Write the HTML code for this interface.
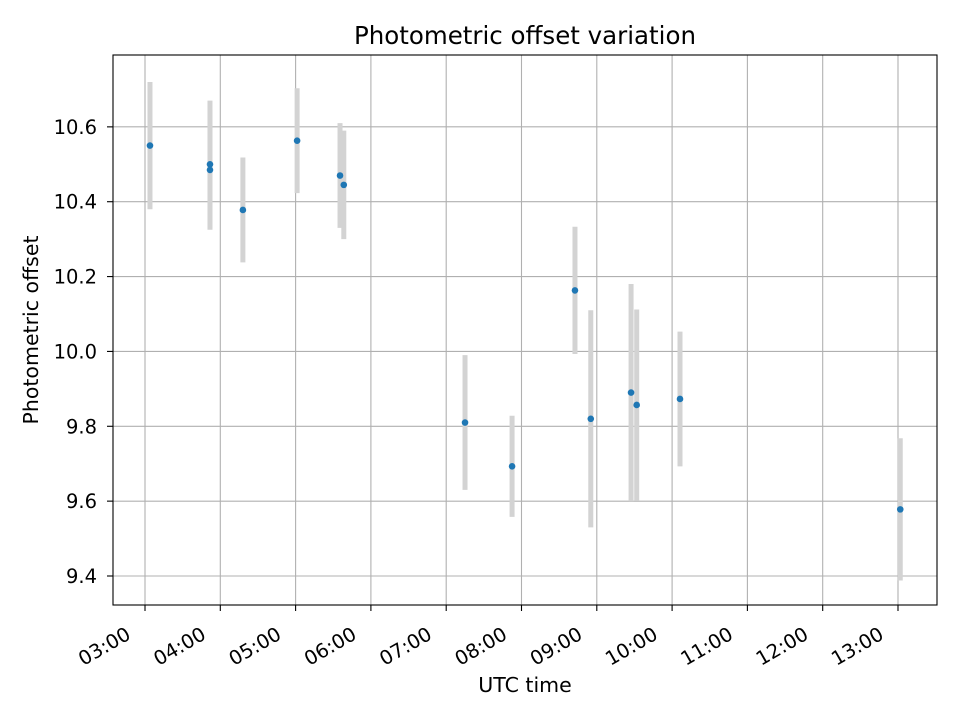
<!DOCTYPE html>
<html><head><meta charset="utf-8"><style>
html,body{margin:0;padding:0;background:#fff;}
svg text{font-family:"DejaVu Sans","Liberation Sans",sans-serif;fill:#000;}
</style></head><body>
<svg id="chart" width="960" height="720" viewBox="0 0 960 720" xmlns="http://www.w3.org/2000/svg">
<rect width="960" height="720" fill="#fff"/>
<g id="grid"></g>
<g id="errs"></g>
<g id="pts"></g>
<rect x="113" y="55" width="824" height="550" fill="none" stroke="#000" stroke-width="1.1"/>
<g id="xt"></g>
<g id="yt"></g>
<text x="525" y="44" font-size="24.5" text-anchor="middle">Photometric offset variation</text>
<text x="525" y="692" font-size="20.5" text-anchor="middle">UTC time</text>
<text transform="translate(38,330) rotate(-90)" font-size="20.5" text-anchor="middle">Photometric offset</text>
</svg>
<script>
const times=[3.066,3.863,3.863,4.30,5.02,5.59,5.64,7.25,7.875,8.71,8.92,9.455,9.53,10.105,13.03];
const offsets=[10.55,10.50,10.485,10.378,10.563,10.47,10.445,9.81,9.693,10.163,9.82,9.89,9.857,9.873,9.578];
const errors=[0.17,0.17,0.16,0.14,0.14,0.14,0.145,0.18,0.135,0.17,0.29,0.29,0.255,0.18,0.19];
const xTicks=[3,4,5,6,7,8,9,10,11,12,13];
const xTickLabels=["03:00","04:00","05:00","06:00","07:00","08:00","09:00","10:00","11:00","12:00","13:00"];
const yTicks=[9.4,9.6,9.8,10.0,10.2,10.4,10.6];
const yTickLabels=["9.4","9.6","9.8","10.0","10.2","10.4","10.6"];
const X0=113,X1=937,Y0=55,Y1=605;
const xMin=2.575,xMax=13.518,yMin=9.3225,yMax=10.792;
function xs(v){return X0+(v-xMin)/(xMax-xMin)*(X1-X0);}
function ys(v){return Y1-(v-yMin)/(yMax-yMin)*(Y1-Y0);}
const NS="http://www.w3.org/2000/svg";
function mk(t,a,p){const e=document.createElementNS(NS,t);for(const k in a)e.setAttribute(k,a[k]);p.appendChild(e);return e;}
const grid=document.getElementById('grid'),xt=document.getElementById('xt'),yt=document.getElementById('yt');
xTicks.forEach((t,i)=>{const x=xs(t);
 const g=mk('line',{x1:x,x2:x,y1:Y0,y2:Y1,stroke:'#b0b0b0','stroke-width':1.1},grid);
 
 
 const tk=mk('line',{x1:x,x2:x,y1:Y1,y2:Y1+6,stroke:'#000','stroke-width':1.1},xt);
 
 
 const lb=mk('text',{transform:`translate(${x-13},${Y1+33}) rotate(-30)`,'font-size':19.5,'text-anchor':'end'},xt);
 lb.textContent=xTickLabels[i];
 
 
});
yTicks.forEach((t,i)=>{const y=ys(t);
 const g=mk('line',{x1:X0,x2:X1,y1:y,y2:y,stroke:'#b0b0b0','stroke-width':1.1},grid);
 
 
 const tk=mk('line',{x1:X0-6,x2:X0,y1:y,y2:y,stroke:'#000','stroke-width':1.1},yt);
 
 
 const lb=mk('text',{x:X0-16,y:y+7,'font-size':19.5,'text-anchor':'end'},yt);
 lb.textContent=yTickLabels[i];
 
 
});
const errs=document.getElementById('errs'),pts=document.getElementById('pts');
times.forEach((t,i)=>{const x=xs(t);
 const e=mk('line',{x1:x,x2:x,y1:ys(offsets[i]+errors[i]),y2:ys(offsets[i]-errors[i]),stroke:'#d3d3d3','stroke-width':5},errs);
 
 
 const c=mk('circle',{cx:x,cy:ys(offsets[i]),r:3.3,fill:'#1f77b4'},pts);
 
 
});
</script>
</body></html>
